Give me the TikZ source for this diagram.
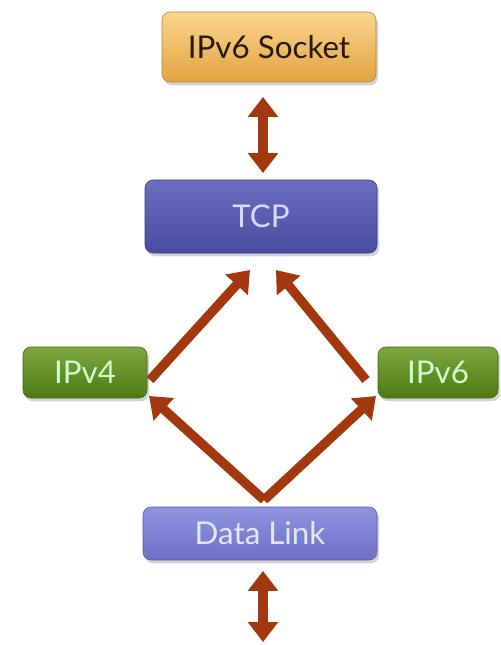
\documentclass[tikz,border=0pt]{standalone}
\usepackage{fontspec}
\setmainfont{Lato}
\usetikzlibrary{arrows.meta,shadows}
\definecolor{sockc}{HTML}{F8C25E}
\definecolor{sockd}{HTML}{E2A440}
\definecolor{tcpc}{HTML}{5A5DBA}
\definecolor{tcpd}{HTML}{4A4CA0}
\definecolor{grnc}{HTML}{66961E}
\definecolor{grnd}{HTML}{4E7A12}
\definecolor{dlc}{HTML}{8288DC}
\definecolor{dld}{HTML}{6C71C8}
\definecolor{arr}{HTML}{A3380F}
\tikzset{
  box/.style={rounded corners=6pt, minimum height=#1, inner sep=0pt,
    drop shadow={shadow xshift=1.5pt, shadow yshift=-2.5pt, opacity=0.35}},
  layertext/.style={font=\fontsize{23.5}{26}\selectfont},
  link/.style={draw=arr, line width=7pt, -{Triangle[length=15pt,width=22pt]}},
  dlink/.style={draw=arr, line width=7pt, {Triangle[length=15pt,width=22pt]}-{Triangle[length=15pt,width=22pt]}},
}
\begin{document}
\begin{tikzpicture}[x=0.75pt,y=-0.75pt]
\useasboundingbox (0,0) rectangle (500,645);
\node[box=52.5pt, minimum width=160.5pt, top color=sockc!70!white, bottom color=sockd, draw=sockd!80!black, layertext, text=black!80!brown] (sock) at (269,47) {IPv6 Socket};
\node[box=54.75pt, minimum width=174pt, top color=tcpc!90!white, bottom color=tcpd, draw=tcpd!80!black, layertext, text=white!85!blue] (tcp) at (261,216.5) {TCP};
\node[box=38.25pt, minimum width=93pt, top color=grnc!85!white, bottom color=grnd, draw=grnd!80!black, layertext, text=white!80!green] (v4) at (85,372.5) {IPv4};
\node[box=38.25pt, minimum width=90pt, top color=grnc!85!white, bottom color=grnd, draw=grnd!80!black, layertext, text=white!80!green] (v6) at (438,372.5) {IPv6};
\node[box=39.75pt, minimum width=175.5pt, top color=dlc!90!white, bottom color=dld, draw=dld!80!black, layertext, text=white!90!blue] (dl) at (260,533.5) {Data Link};
\coordinate (bot) at (263,642);
\coordinate (tcpl) at (250,270);
\coordinate (tcpr) at (276,270);
\coordinate (dltop) at (264,500);
\coordinate (v4a) at (150,380);
\coordinate (v6a) at (366,380);
\coordinate (v4b) at (149,396);
\coordinate (v6b) at (376,396);
\draw[dlink] ([yshift=-11pt]sock.south -| 263,0) -- ([yshift=5pt]tcp.north -| 263,0);
\draw[link] (v4a) -- (tcpl);
\draw[link] (v6a) -- (tcpr);
\draw[link] (dltop) -- (v4b);
\draw[link] (dltop) -- (v6b);
\draw[dlink] ([yshift=-8pt]dl.south -| 263,0) -- (bot);
\end{tikzpicture}
\end{document}
